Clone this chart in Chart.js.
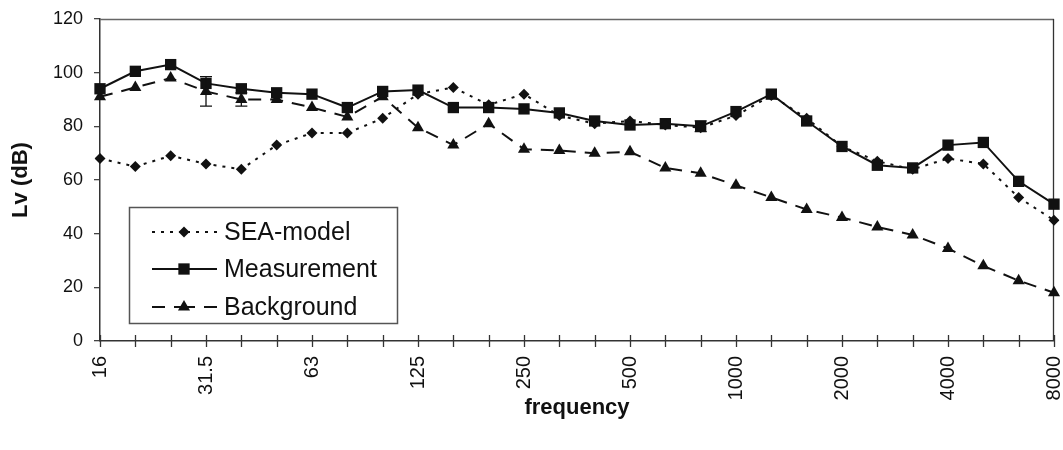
<!DOCTYPE html>
<html>
<head>
<meta charset="utf-8">
<script src="https://cdn.jsdelivr.net/npm/chart.js@4/dist/chart.umd.min.js"></script>
<style>
  html, body { margin: 0; padding: 0; background: #fff; }
  #wrap { width: 1063px; height: 450px; position: relative; }
</style>
</head>
<body>
<div id="wrap"><canvas id="c" width="1063" height="450"></canvas></div>
<script>
// ---- data ----
const freqLabels = ['16','20','25','31.5','40','50','63','80','100','125','160','200','250','315','400','500','630','800','1000','1250','1600','2000','2500','3150','4000','5000','6300','8000'];
const seaModel    = [68, 65, 69, 66, 64, 73, 77.5, 77.5, 83, 92, 94.5, 88, 92, 84, 81, 82, 80.5, 79.5, 84, 91.5, 83, 72.5, 67, 64, 68, 66, 53.5, 45];
const measurement = [94, 100.5, 103, 96, 94, 92.5, 92, 87, 93, 93.5, 87, 87, 86.5, 85, 82, 80.5, 81, 80, 85.5, 92, 82, 72.5, 65.5, 64.5, 73, 74, 59.5, 51];
const background  = [91, 94.5, 98, 93, 90, 90, 87, 83.5, 91, 79.5, 73, 81, 71.5, 71, 70, 70.5, 64.5, 62.5, 58, 53.5, 49, 46, 42.5, 39.5, 34.5, 28, 22.5, 18];
const bgErrLow    = [null,null,null,87.5,87.5,null,null,null,null,null,null,null,null,null,null,null,null,null,null,null,null,null,null,null,null,null,null,null];
const bgErrHigh   = [null,null,null,98.5,92.5,null,null,null,null,null,null,null,null,null,null,null,null,null,null,null,null,null,null,null,null,null,null,null];
const measErrLow  = [null,null,null,null,null,null,null,null,null,null,null,null,null,null,null,null,null,78,null,null,null,null,null,null,null,null,null,null];
const measErrHigh = [null,null,null,null,null,null,null,null,null,null,null,null,null,null,null,null,null,82,null,null,null,null,null,null,null,null,null,null];
const yTicks = [0, 20, 40, 60, 80, 100, 120];
const labelEvery = 3;

const FONT = "'Liberation Sans', Arial, Helvetica, sans-serif";
const INK = '#111';

function marker(ctx, style, r, x, y) {
  ctx.beginPath();
  if (style === 'rect') {
    const s = r * Math.SQRT1_2;
    ctx.rect(x - s, y - s, 2 * s, 2 * s);
  } else if (style === 'rectRot') {
    ctx.moveTo(x, y - r); ctx.lineTo(x + r, y); ctx.lineTo(x, y + r); ctx.lineTo(x - r, y);
    ctx.closePath();
  } else if (style === 'triangle') {
    ctx.moveTo(x, y - r); ctx.lineTo(x + r * 0.866, y + r * 0.5); ctx.lineTo(x - r * 0.866, y + r * 0.5);
    ctx.closePath();
  }
  ctx.fill();
}

const extras = {
  id: 'extras',
  beforeDatasetsDraw(chart) {
    const {ctx, chartArea: a, scales: {x}} = chart;
    ctx.save();
    ctx.strokeStyle = '#666'; ctx.lineWidth = 1.3;
    ctx.beginPath(); ctx.moveTo(a.left, a.top + 0.5); ctx.lineTo(a.right, a.top + 0.5); ctx.stroke();
    ctx.strokeStyle = '#333';
    ctx.beginPath(); ctx.moveTo(a.right - 0.5, a.top); ctx.lineTo(a.right - 0.5, a.bottom); ctx.stroke();
    ctx.strokeStyle = '#333'; ctx.lineWidth = 1.3;
    for (let i = 0; i < freqLabels.length; i++) {
      const px = Math.round(x.getPixelForValue(i)) + 0.5;
      ctx.beginPath(); ctx.moveTo(px, a.bottom - 6); ctx.lineTo(px, a.bottom + 6); ctx.stroke();
    }
    ctx.restore();
  },
  afterDatasetsDraw(chart) {
    const {ctx, scales: {x, y}} = chart;
    ctx.save();
    ctx.strokeStyle = INK; ctx.lineWidth = 1.3;
    const bars = [[bgErrLow, bgErrHigh], [measErrLow, measErrHigh]];
    bars.forEach(([lo, hi]) => {
      for (let i = 0; i < lo.length; i++) {
        if (lo[i] == null) continue;
        const px = x.getPixelForValue(i);
        const y1 = y.getPixelForValue(lo[i]), y2 = y.getPixelForValue(hi[i]);
        ctx.beginPath();
        ctx.moveTo(px, y1); ctx.lineTo(px, y2);
        ctx.moveTo(px - 6, y1); ctx.lineTo(px + 6, y1);
        ctx.moveTo(px - 6, y2); ctx.lineTo(px + 6, y2);
        ctx.stroke();
      }
    });
    const bx = 129.5, by = 207.5, bw = 268, bh = 116;
    ctx.fillStyle = '#fff';
    ctx.fillRect(bx, by, bw, bh);
    ctx.strokeStyle = '#555'; ctx.lineWidth = 1.5;
    ctx.strokeRect(bx, by, bw, bh);
    const rows = [232, 269, 307];
    const x0 = 152, x1 = 217, xm = 184;
    chart.data.datasets.forEach((ds, k) => {
      const yy = rows[k];
      ctx.strokeStyle = INK; ctx.lineWidth = 2;
      ctx.setLineDash(ds.borderDash || []);
      ctx.beginPath(); ctx.moveTo(x0, yy); ctx.lineTo(xm, yy); ctx.stroke();
      ctx.beginPath(); ctx.moveTo(x1, yy); ctx.lineTo(xm, yy); ctx.stroke();
      ctx.setLineDash([]);
      ctx.fillStyle = INK;
      marker(ctx, ds.pointStyle, ds.pointRadius, xm, yy);
      ctx.font = '25px ' + FONT;
      ctx.textBaseline = 'middle';
      ctx.textAlign = 'left';
      ctx.fillStyle = INK;
      ctx.fillText(ds.label, 224, yy + 1);
    });
    ctx.restore();
  }
};

new Chart(document.getElementById('c'), {
  type: 'line',
  data: {
    labels: freqLabels,
    datasets: [
      { label: 'SEA-model', data: seaModel, borderColor: INK, backgroundColor: INK, borderWidth: 2,
        borderDash: [3, 6], pointStyle: 'rectRot', pointRadius: 5.5, pointBorderWidth: 0, tension: 0 },
      { label: 'Measurement', data: measurement, borderColor: INK, backgroundColor: INK, borderWidth: 2,
        borderDash: [], pointStyle: 'rect', pointRadius: 8, pointBorderWidth: 0, tension: 0 },
      { label: 'Background', data: background, borderColor: INK, backgroundColor: INK, borderWidth: 2,
        borderDash: [13, 9], pointStyle: 'triangle', pointRadius: 7, pointBorderWidth: 0, tension: 0 }
    ]
  },
  options: {
    responsive: false,
    animation: false,
    layout: { padding: { left: 0, right: 9, top: 19, bottom: 0 } },
    plugins: { legend: { display: false }, tooltip: { enabled: false } },
    scales: {
      x: {
        type: 'category',
        offset: false,
        afterFit(s) { s.height = 109; s.paddingLeft = 0; s.paddingRight = 0; },
        grid: { display: true, drawOnChartArea: false, drawTicks: false },
        border: { display: true, color: '#333', width: 1.5 },
        ticks: {
          autoSkip: false, minRotation: 90, maxRotation: 90, padding: 15,
          color: INK, font: { family: FONT, size: 20 },
          callback: (v, i) => (i % labelEvery === 0 ? freqLabels[i] : '')
        },
        title: { display: true, text: 'frequency', color: INK,
          font: { family: FONT, size: 22, weight: 'bold' }, padding: { top: 0, bottom: 29 } }
      },
      y: {
        min: yTicks[0], max: yTicks[yTicks.length - 1],
        afterFit(s) { s.width = 100; s.paddingTop = 0; s.paddingBottom = 0; },
        afterBuildTicks(s) { s.ticks = yTicks.map(v => ({ value: v })); },
        grid: { display: true, drawOnChartArea: false, drawTicks: true, tickLength: 6, color: '#444', lineWidth: 1.3 },
        border: { display: true, color: '#333', width: 1.5 },
        ticks: { padding: 11, color: INK, font: { family: FONT, size: 18 } },
        title: { display: true, text: 'Lv (dB)', color: INK,
          font: { family: FONT, size: 22, weight: 'bold' }, padding: { top: 8, bottom: 0 } }
      }
    }
  },
  plugins: [extras]
});
</script>
</body>
</html>
